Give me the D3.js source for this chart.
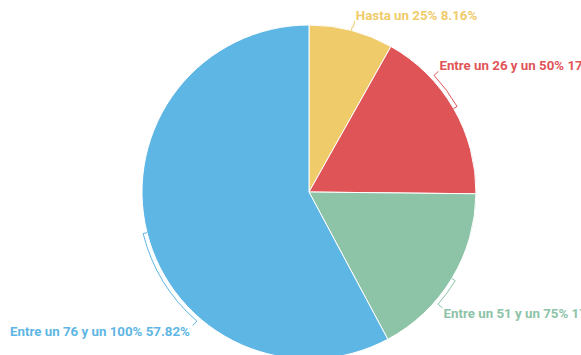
<!DOCTYPE html>
<html>
<head>
<meta charset="utf-8">
<script src="https://cdn.jsdelivr.net/npm/d3@7"></script>
<style>
  html, body { margin: 0; padding: 0; background: #fff; }
  svg { display: block; }
</style>
</head>
<body>
<svg id="chart" width="581" height="355"></svg>
<script>
// Share of respondents by range
const categories = ["Hasta un 25%", "Entre un 26 y un 50%", "Entre un 51 y un 75%", "Entre un 76 y un 100%"];
const values = [8.16, 17.01, 17.01, 57.82];
const colors = ["#F0CB69", "#DF5557", "#8DC3A7", "#5EB6E4"];

// Where each label sits around the pie (degrees, clockwise from 12 o'clock)
const labelAngles = [15, 47, 131, 221];

const width = 581, height = 355;
const cx = 309, cy = 192, radius = 167;

const svg = d3.select("#chart");
const g = svg.append("g").attr("transform", `translate(${cx},${cy})`);

const pie = d3.pie().sort(null).value(d => d.value);
const arcs = pie(categories.map((c, i) => ({ name: c, value: values[i], color: colors[i], labelAngle: labelAngles[i] })));

const arc = d3.arc().innerRadius(0).outerRadius(radius);

g.selectAll("path.slice")
  .data(arcs)
  .join("path")
  .attr("class", "slice")
  .attr("d", arc)
  .attr("fill", d => d.data.color)
  .attr("stroke", "#fff")
  .attr("stroke-width", 1);

const polar = (r, a) => [r * Math.sin(a), -r * Math.cos(a)];
const rHook = radius + 4, rTail = radius + 10;

// Connectors: a short tick at the slice middle, an arc along the rim, and a tail to the label
g.selectAll("path.connector")
  .data(arcs)
  .join("path")
  .attr("class", "connector")
  .attr("fill", "none")
  .attr("stroke", d => d.data.color)
  .attr("stroke-width", 1)
  .attr("d", d => {
    const mid = (d.startAngle + d.endAngle) / 2;
    const la = d.data.labelAngle * Math.PI / 180;
    const p0 = polar(radius, mid), p1 = polar(rHook, mid), p2 = polar(rHook, la), p3 = polar(rTail, la);
    const sweep = la > mid ? 1 : 0;
    const large = Math.abs(la - mid) > Math.PI ? 1 : 0;
    return `M${p0}L${p1}A${rHook},${rHook} 0 ${large} ${sweep} ${p2}L${p3}`;
  });

g.selectAll("text.label")
  .data(arcs)
  .join("text")
  .attr("class", "label")
  .attr("fill", d => d.data.color)
  .attr("font-family", "Roboto, 'Noto Sans', sans-serif")
  .attr("font-weight", "bold")
  .attr("font-size", 13.3)
  .each(function (d) {
    const la = d.data.labelAngle * Math.PI / 180;
    const [x, y] = polar(rTail, la);
    const right = Math.sin(la) >= 0;
    const top = Math.cos(la) >= 0;
    d3.select(this)
      .attr("text-anchor", right ? "start" : "end")
      .attr("x", right ? x + 1 : x - 3)
      .attr("y", top ? y - 1 : y + 10);
  })
  .text(d => `${d.data.name} ${d3.format(".2f")(d.data.value)}%`);
</script>
</body>
</html>
